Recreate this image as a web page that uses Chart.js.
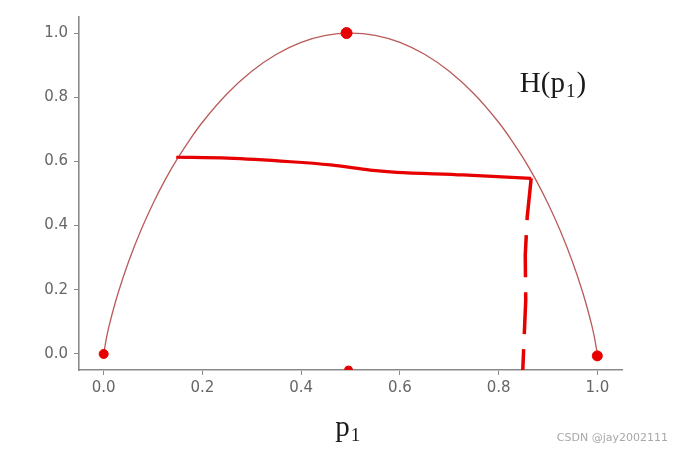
<!DOCTYPE html>
<html><head><meta charset="utf-8">
<script src="https://cdn.jsdelivr.net/npm/chart.js@4.4.0/dist/chart.umd.min.js"></script>
<style>html,body{margin:0;padding:0;background:#fff;}</style>
</head><body>
<canvas id="c" width="681" height="451" style="width:681px;height:451px;display:block"></canvas>
<script>
// ---- data ----
const xTickValues = [0.0, 0.2, 0.4, 0.6, 0.8, 1.0];
const yTickValues = [0.0, 0.2, 0.4, 0.6, 0.8, 1.0];

// smooth curve H(p1)
const curveP = [0, 0.005, 0.01, 0.02, 0.03, 0.05, 0.075, 0.1, 0.125, 0.15, 0.175, 0.2, 0.25, 0.3, 0.35, 0.4, 0.45, 0.5,
                0.55, 0.6, 0.65, 0.7, 0.75, 0.8, 0.825, 0.85, 0.875, 0.9, 0.925, 0.95, 0.97, 0.98, 0.99, 0.995, 1.0];
const curveH = [0, 0.045, 0.081, 0.141, 0.194, 0.286, 0.384, 0.469, 0.544, 0.610, 0.669, 0.722, 0.811, 0.881, 0.934, 0.971, 0.993, 1.0,
                0.993, 0.971, 0.934, 0.881, 0.811, 0.722, 0.669, 0.610, 0.544, 0.469, 0.384, 0.286, 0.194, 0.141, 0.081, 0.045, 0];

// hand-drawn near-horizontal stroke
const strokeP = [0.147, 0.251, 0.379, 0.460, 0.540, 0.594, 0.728, 0.866];
const strokeH = [0.613, 0.610, 0.599, 0.589, 0.573, 0.566, 0.558, 0.547];

// hand-drawn dashed drop line
const dropP = [0.866, 0.858, 0.854, 0.855, 0.849];
const dropH = [0.547, 0.427, 0.308, 0.168, -0.05];

// hand-drawn dots
const dotP = [0.0, 0.492, 1.0, 0.496];
const dotH = [0.0, 1.0, -0.006, -0.05];

const curveLabel = ['H(p', '1', ')'];
const axisLabel = ['p', '1'];
const watermark = 'CSDN @jay2002111';

const toPts = (xs, ys) => xs.map((x, i) => ({x: x, y: ys[i]}));
const RED = 'rgb(230,0,0)';

const textPlugin = {
  id: 'texts',
  afterDraw(chart) {
    const ctx = chart.ctx, xs = chart.scales.x, ys = chart.scales.y;
    ctx.save();
    ctx.fillStyle = '#1a1a1a';
    ctx.textBaseline = 'alphabetic';
    const big = '29px "Liberation Serif", "DejaVu Serif", serif';
    const small = '19px "Liberation Serif", "DejaVu Serif", serif';
    // H(p1)
    let x = xs.getPixelForValue(0.843), y = ys.getPixelForValue(0.815);
    ctx.font = big; ctx.fillText(curveLabel[0], x, y); x += ctx.measureText(curveLabel[0]).width + 1;
    ctx.font = small; ctx.fillText(curveLabel[1], x, y + 5); x += ctx.measureText(curveLabel[1]).width + 1;
    ctx.font = big; ctx.fillText(curveLabel[2], x, y);
    // p1 axis label
    x = xs.getPixelForValue(0.469); y = chart.chartArea.bottom + 66;
    ctx.font = big; ctx.fillText(axisLabel[0], x, y); x += ctx.measureText(axisLabel[0]).width + 1;
    ctx.font = small; ctx.fillText(axisLabel[1], x, y + 5);
    // watermark
    ctx.font = '11px "DejaVu Sans", sans-serif';
    ctx.fillStyle = '#a8a8a8';
    ctx.textAlign = 'right';
    ctx.fillText(watermark, 668, 441);
    ctx.restore();
  }
};

new Chart(document.getElementById('c'), {
  type: 'scatter',
  data: {
    datasets: [
      {data: toPts(curveP, curveH), showLine: true, borderColor: 'rgb(185,90,90)', borderWidth: 1.3,
       pointRadius: 0, tension: 0.4, cubicInterpolationMode: 'monotone', order: 3},
      {data: toPts(strokeP, strokeH), showLine: true, borderColor: RED, borderWidth: 3.2,
       pointRadius: 0, tension: 0.3, order: 2},
      {data: toPts(dropP, dropH), showLine: true, borderColor: RED, borderWidth: 3.5, borderDash: [42, 15],
       pointRadius: 0, tension: 0, order: 2},
      {data: toPts(dotP, dotH), showLine: false, backgroundColor: RED, borderColor: RED,
       pointRadius: [4.5, 5.5, 5, 4], pointHoverRadius: 4.5, order: 1}
    ]
  },
  options: {
    responsive: false,
    animation: false,
    devicePixelRatio: 1,
    layout: {padding: {left: 0, top: 17, right: 59, bottom: 0}},
    plugins: {legend: {display: false}, tooltip: {enabled: false}},
    scales: {
      x: {
        type: 'linear', min: -0.05, max: 1.05,
        afterBuildTicks: s => { s.ticks = xTickValues.map(v => ({value: v})); },
        afterFit: s => { s.height = 81; },
        grid: {display: true, drawOnChartArea: false, drawTicks: true, tickLength: 5, color: '#8a8a8a', lineWidth: 1},
        border: {display: true, color: '#8a8a8a', width: 1.6},
        ticks: {callback: v => Number(v).toFixed(1), color: '#666', padding: 4,
                font: {family: '"DejaVu Sans", sans-serif', size: 15}, maxRotation: 0, autoSkip: false}
      },
      y: {
        type: 'linear', min: -0.05, max: 1.05,
        afterBuildTicks: s => { s.ticks = yTickValues.map(v => ({value: v})); },
        afterFit: s => { s.width = 79; },
        grid: {display: true, drawOnChartArea: false, drawTicks: true, tickLength: 5, color: '#8a8a8a', lineWidth: 1},
        border: {display: true, color: '#8a8a8a', width: 1.6},
        ticks: {callback: v => Number(v).toFixed(1), color: '#666', padding: 6,
                font: {family: '"DejaVu Sans", sans-serif', size: 15}, autoSkip: false}
      }
    }
  },
  plugins: [textPlugin]
});
</script>
</body></html>
